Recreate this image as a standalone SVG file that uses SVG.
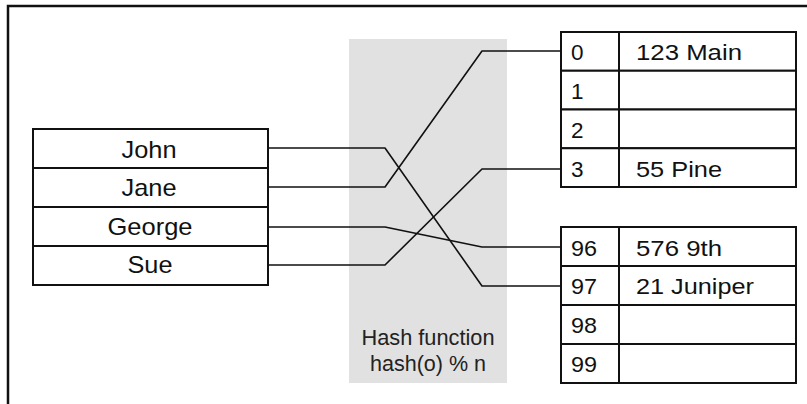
<svg xmlns="http://www.w3.org/2000/svg" width="807" height="404" viewBox="0 0 807 404">
  <style>
    .cell { fill: #ffffff; stroke: #111111; stroke-width: 2; }
    .txt { font-family: "Liberation Sans", Arial, sans-serif; font-size: 22.5px; fill: #111111; }
    .key { font-size: 24px; text-anchor: middle; }
    .wire { fill: none; stroke: #111111; stroke-width: 1.6; stroke-linejoin: round; }
    .hash { font-family: "Liberation Sans", Arial, sans-serif; font-size: 21.5px; fill: #222222; text-anchor: middle; }
  </style>
  <rect x="0" y="0" width="807" height="404" fill="#ffffff"/>
  <!-- outer frame -->
  <path d="M8,404 V6 H807" fill="none" stroke="#111111" stroke-width="2.5"/>

  <!-- hash function band -->
  <g id="hash-function">
    <rect x="349" y="39" width="158" height="344" fill="#e1e1e1"/>
    <text class="hash" x="428" y="345" textLength="133" lengthAdjust="spacingAndGlyphs">Hash function</text>
    <text class="hash" x="428" y="371" textLength="116" lengthAdjust="spacingAndGlyphs">hash(o) % n</text>
  </g>

  <!-- connectors -->
  <g id="connectors">
    <path class="wire" d="M268,148 H385 L482,286 H561"/>
    <path class="wire" d="M268,187 H385 L482,51 H561"/>
    <path class="wire" d="M268,227 H385 L482,247 H561"/>
    <path class="wire" d="M268,265 H385 L482,169 H561"/>
  </g>

  <!-- keys -->
  <g id="keys">
    <rect class="cell" x="33" y="129" width="235" height="39"/>
    <rect class="cell" x="33" y="168" width="235" height="39"/>
    <rect class="cell" x="33" y="207" width="235" height="39"/>
    <rect class="cell" x="33" y="246" width="235" height="39"/>
    <text class="txt key" x="149" y="158" textLength="55" lengthAdjust="spacingAndGlyphs">John</text>
    <text class="txt key" x="149" y="196" textLength="55" lengthAdjust="spacingAndGlyphs">Jane</text>
    <text class="txt key" x="150" y="235" textLength="85" lengthAdjust="spacingAndGlyphs">George</text>
    <text class="txt key" x="150" y="273" textLength="45" lengthAdjust="spacingAndGlyphs">Sue</text>
  </g>

  <!-- buckets 0-3 -->
  <g id="buckets-top">
    <rect class="cell" x="561" y="32" width="235" height="38.75"/>
    <rect class="cell" x="561" y="70.75" width="235" height="38.75"/>
    <rect class="cell" x="561" y="109.5" width="235" height="38.75"/>
    <rect class="cell" x="561" y="148.25" width="235" height="38.75"/>
    <line x1="619" y1="32" x2="619" y2="187" stroke="#111111" stroke-width="2"/>
    <text class="txt" x="571" y="60">0</text>
    <text class="txt" x="636" y="60" textLength="106" lengthAdjust="spacingAndGlyphs">123 Main</text>
    <text class="txt" x="571" y="99">1</text>
    <text class="txt" x="571" y="138">2</text>
    <text class="txt" x="571" y="177">3</text>
    <text class="txt" x="636" y="177" textLength="86" lengthAdjust="spacingAndGlyphs">55 Pine</text>
  </g>

  <!-- buckets 96-99 -->
  <g id="buckets-bottom">
    <rect class="cell" x="561" y="227" width="235" height="39"/>
    <rect class="cell" x="561" y="266" width="235" height="39"/>
    <rect class="cell" x="561" y="305" width="235" height="39"/>
    <rect class="cell" x="561" y="344" width="235" height="39"/>
    <line x1="619" y1="227" x2="619" y2="383" stroke="#111111" stroke-width="2"/>
    <text class="txt" x="571" y="256" textLength="26" lengthAdjust="spacingAndGlyphs">96</text>
    <text class="txt" x="636" y="256" textLength="86" lengthAdjust="spacingAndGlyphs">576 9th</text>
    <text class="txt" x="571" y="294" textLength="26" lengthAdjust="spacingAndGlyphs">97</text>
    <text class="txt" x="636" y="294" textLength="118" lengthAdjust="spacingAndGlyphs">21 Juniper</text>
    <text class="txt" x="571" y="333" textLength="26" lengthAdjust="spacingAndGlyphs">98</text>
    <text class="txt" x="571" y="372" textLength="26" lengthAdjust="spacingAndGlyphs">99</text>
  </g>
</svg>
